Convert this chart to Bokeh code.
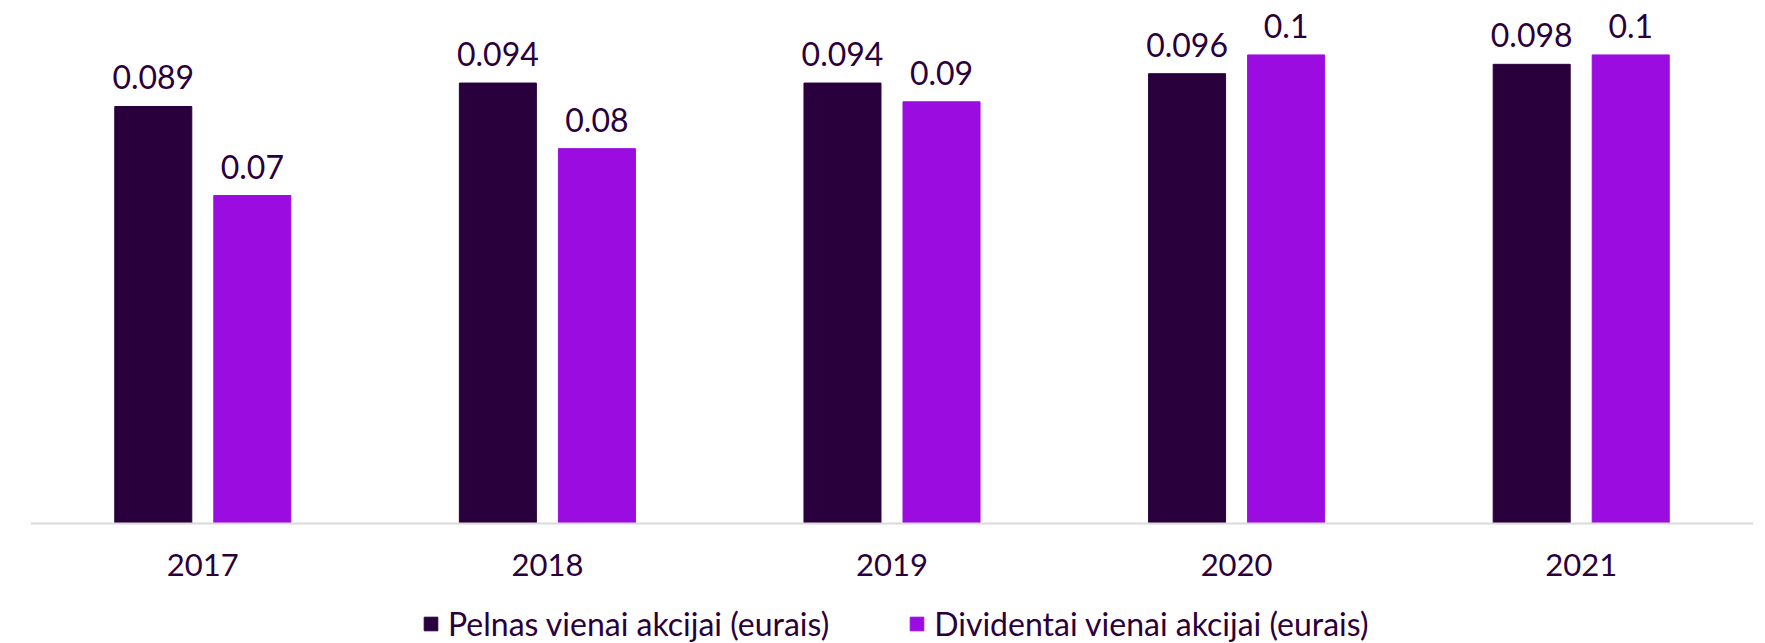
from bokeh.plotting import figure
from bokeh.models import FactorRange, Range1d, ColumnDataSource, Legend, LegendItem
from bokeh.transform import dodge
from bokeh.core.properties import value
from bokeh.embed import file_html
from bokeh.resources import INLINE

years = ["2017", "2018", "2019", "2020", "2021"]
eps = [0.089, 0.094, 0.094, 0.096, 0.098]
dps = [0.07, 0.08, 0.09, 0.1, 0.1]
series_names = ["Pelnas vienai akcijai (eurais)", "Dividentai vienai akcijai (eurais)"]

DARK = "#2a003c"
PURPLE = "#9b0ce1"
FONT = "Lato"

src = ColumnDataSource(dict(
    year=years, eps=eps, dps=dps,
    eps_lbl=[str(v) for v in eps], dps_lbl=[str(v) for v in dps],
))

p = figure(x_range=FactorRange(*years), y_range=Range1d(-0.025614, 0.1097),
           frame_width=1723, frame_height=634,
           min_border_left=30, min_border_right=4, min_border_top=9, min_border_bottom=0,
           output_backend="svg", toolbar_location=None, y_axis_location=None)

off = 0.1437
bw = 0.2235
r1 = p.vbar(x=dodge("year", -off, range=p.x_range), top="eps", width=bw, source=src,
            fill_color=DARK, line_color=DARK)
r2 = p.vbar(x=dodge("year", off, range=p.x_range), top="dps", width=bw, source=src,
            fill_color=PURPLE, line_color=PURPLE)

for col, lbl, o in (("eps", "eps_lbl", -off), ("dps", "dps_lbl", off)):
    p.text(x=dodge("year", o, range=p.x_range), y=col, text=lbl, source=src,
           text_align="center", text_baseline="alphabetic", y_offset=-29,
           text_font=value(FONT), text_font_size="32px", text_color=DARK)

p.xgrid.grid_line_color = None
p.ygrid.grid_line_color = None
p.outline_line_color = None
p.background_fill_color = "white"
p.border_fill_color = "white"

ax = p.xaxis[0]
ax.fixed_location = 0
ax.axis_line_color = "#d9d9d9"
ax.axis_line_width = 2
ax.major_tick_line_color = None
ax.minor_tick_line_color = None
ax.major_label_standoff = 25
ax.major_label_text_font = FONT
ax.major_label_text_font_size = "31px"
ax.major_label_text_color = DARK

legend = Legend(items=[LegendItem(label=series_names[0], renderers=[r1]),
                       LegendItem(label=series_names[1], renderers=[r2])],
                orientation="horizontal", location=(392, 0),
                glyph_width=17, glyph_height=17, label_standoff=9, spacing=79,
                padding=0, margin=0, border_line_color=None,
                background_fill_alpha=0,
                label_text_font=FONT, label_text_font_size="32px", label_text_color=DARK)
p.add_layout(legend, "center")

open("out.html", "w").write(file_html(p, INLINE))
